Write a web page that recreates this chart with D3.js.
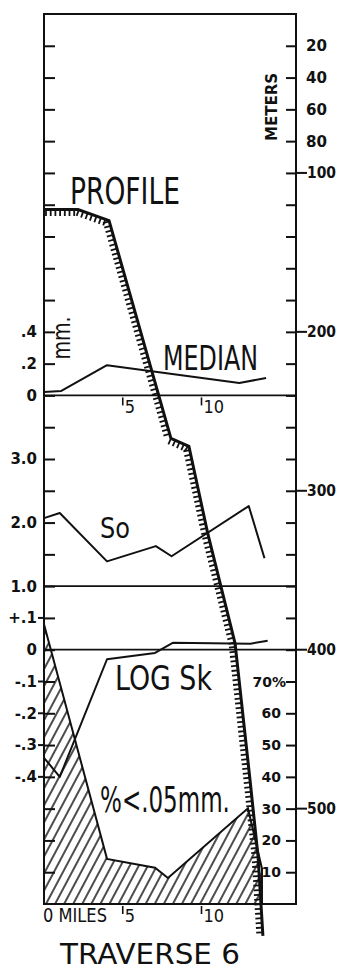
<!DOCTYPE html>
<html>
<head>
<meta charset="utf-8">
<script src="https://cdn.jsdelivr.net/npm/d3@7"></script>
<style>
  body { margin: 0; background: #fff; }
  svg { display: block; }
  text { fill: #111; }
</style>
</head>
<body>
<div id="chart"></div>
<script>
// Traverse 6: stations along the traverse (miles) and the values at each
const profileMiles = [0, 2.16, 4.13, 8.06, 9.2, 10.4, 12.13, 13.08, 13.59, 13.9];
const profileMeters = [123, 123, 130, 267, 272, 327, 396, 482, 530, 580];

const medianMiles = [0, 1.1, 4, 12.4, 14.1];
const medianMm = [0.021, 0.028, 0.19, 0.078, 0.11];

const soMiles = [0, 1, 4, 7.1, 8.1, 13, 14];
const soValues = [2.07, 2.15, 1.39, 1.63, 1.47, 2.26, 1.44];

const skMiles = [0, 1, 4, 7.05, 8.2, 13.1, 14.2];
const skValues = [-0.34, -0.40, -0.03, -0.01, 0.022, 0.019, 0.028];

const fineMiles = [0, 4, 7.05, 7.87, 12.95, 13.84];
const finePct = [88, 14.2, 11.4, 8.2, 30.1, 11.1];

// tick labels
const meterTicks = [20, 40, 60, 80, 100, 200, 300, 400, 500];
const medianTicks = [0, 0.2, 0.4];
const soTicks = [1, 2, 3];
const skTicks = [0.1, 0, -0.1, -0.2, -0.3, -0.4];
const pctTicks = [10, 20, 30, 40, 50, 60, 70];
const mileTicks = [5, 10];

const width = 344, height = 971;
const frameLeft = 44, frameRight = 296, frameTop = 14, frameBottom = 904;

const narrow = "'Liberation Sans Narrow','DejaVu Sans Condensed','Arial Narrow',sans-serif";
const plain = "'DejaVu Sans',Verdana,sans-serif";

const x = d3.scaleLinear().domain([0, 16]).range([frameLeft, frameRight]);
const yM = d3.scaleLinear().domain([0, 560]).range([frameTop, frameBottom]);
// every sub-plot sits on the same 20 m grid
const yMed = d3.scaleLinear().domain([0, 0.4]).range([yM(240), yM(200)]);
const ySo = d3.scaleLinear().domain([1, 3]).range([yM(360), yM(280)]);
const ySk = d3.scaleLinear().domain([0, -0.4]).range([yM(400), yM(480)]);
const yPct = d3.scaleLinear().domain([0, 70]).range([yM(560), yM(420)]);

const svg = d3.select("#chart")
  .append("svg")
  .attr("width", width)
  .attr("height", height);

svg.append("defs")
  .append("pattern")
  .attr("id", "hatch")
  .attr("patternUnits", "userSpaceOnUse")
  .attr("width", 8)
  .attr("height", 8)
  .attr("patternTransform", "rotate(28)")
  .append("line")
  .attr("x1", 1).attr("y1", -1).attr("x2", 1).attr("y2", 9)
  .attr("stroke", "#000")
  .attr("stroke-width", 1.4);

// % < .05 mm (hatched area)
const fineData = d3.zip(fineMiles, finePct);
svg.append("path")
  .datum(fineData)
  .attr("d", d3.area().x(d => x(d[0])).y0(yPct(0)).y1(d => yPct(d[1])))
  .attr("fill", "url(#hatch)");
svg.append("path")
  .datum(fineData.concat([[fineMiles[fineMiles.length - 1], 0]]))
  .attr("d", d3.line().x(d => x(d[0])).y(d => yPct(d[1])))
  .attr("fill", "none")
  .attr("stroke", "#111")
  .attr("stroke-width", 2);

// frame
svg.append("rect")
  .attr("x", frameLeft).attr("y", frameTop)
  .attr("width", frameRight - frameLeft).attr("height", frameBottom - frameTop)
  .attr("fill", "none")
  .attr("stroke", "#111")
  .attr("stroke-width", 2);

// inner ticks every 20 m on both sides
const grid = d3.range(20, 560, 20);
svg.append("g")
  .attr("transform", `translate(${frameLeft},0)`)
  .call(d3.axisRight(yM).tickValues(grid).tickSize(11).tickFormat(""))
  .call(g => g.select(".domain").remove())
  .call(g => g.selectAll("line").attr("stroke", "#111").attr("stroke-width", 2));
svg.append("g")
  .attr("transform", `translate(${frameRight},0)`)
  .call(d3.axisLeft(yM).tickValues(grid).tickSize(10).tickFormat(""))
  .call(g => g.select(".domain").remove())
  .call(g => g.selectAll("line").attr("stroke", "#111").attr("stroke-width", 2));

// base lines of the three upper plots
[yMed(0), ySo(1), ySk(0)].forEach(y => {
  svg.append("line")
    .attr("x1", frameLeft).attr("x2", frameRight)
    .attr("y1", y).attr("y2", y)
    .attr("stroke", "#111")
    .attr("stroke-width", 1.8);
});

// meters axis on the right
svg.append("g")
  .selectAll("g")
  .data(meterTicks)
  .enter()
  .append("g")
  .attr("transform", d => `translate(${frameRight},${yM(d)})`)
  .each(function(d) {
    const g = d3.select(this);
    if (d >= 100) {
      g.append("line").attr("x1", 0).attr("x2", 11)
        .attr("stroke", "#111").attr("stroke-width", 2);
    }
    g.append("text")
      .attr("x", d >= 100 ? 11 : 10)
      .attr("dy", "0.36em")
      .style("font-family", plain)
      .style("font-weight", "bold")
      .style("font-size", "15px")
      .attr("textLength", d >= 100 ? 29 : 21)
      .attr("lengthAdjust", "spacingAndGlyphs")
      .text(d);
  });

svg.append("text")
  .attr("transform", `translate(277,107) rotate(-90)`)
  .style("text-anchor", "middle")
  .style("font-family", plain)
  .style("font-weight", "bold")
  .style("font-size", "16px")
  .attr("textLength", 68)
  .attr("lengthAdjust", "spacingAndGlyphs")
  .text("METERS");

// left axis labels for each plot
function leftLabels(values, scale, fmt) {
  svg.append("g")
    .selectAll("text")
    .data(values)
    .enter()
    .append("text")
    .attr("x", 37)
    .attr("y", d => scale(d))
    .attr("dy", "0.36em")
    .style("text-anchor", "end")
    .style("font-family", plain)
    .style("font-weight", "bold")
    .style("font-size", "15px")
    .text(fmt);
}
leftLabels(medianTicks, yMed, d => d === 0 ? "0" : d3.format(".1f")(d).replace("0.", "."));
leftLabels(soTicks, ySo, d3.format(".1f"));
leftLabels(skTicks, ySk, d => d === 0 ? "0" : (d > 0 ? "+" : "-") + d3.format(".1f")(Math.abs(d)).replace("0.", "."));

// short outer stubs on the log Sk ticks
svg.append("g")
  .selectAll("line")
  .data(skTicks.filter(d => d !== 0))
  .enter()
  .append("line")
  .attr("x1", 38).attr("x2", frameLeft)
  .attr("y1", d => ySk(d)).attr("y2", d => ySk(d))
  .attr("stroke", "#111").attr("stroke-width", 2);

// % labels inside the right frame
svg.append("g")
  .selectAll("text")
  .data(pctTicks)
  .enter()
  .append("text")
  .attr("x", d => d === 70 ? 286 : 281)
  .attr("y", d => yPct(d))
  .attr("dy", "0.36em")
  .style("text-anchor", "end")
  .style("font-family", plain)
  .style("font-weight", "bold")
  .style("font-size", "14px")
  .text(d => d === 70 ? "70%" : d);

// miles marks on the median base line and below the frame
function mileMarks(y0, fontSize) {
  const g = svg.append("g")
    .selectAll("g")
    .data(mileTicks)
    .enter()
    .append("g")
    .attr("transform", d => `translate(${x(d)},${y0})`);
  g.append("line")
    .attr("y1", 2).attr("y2", 10)
    .attr("stroke", "#111").attr("stroke-width", 1.6);
  g.append("text")
    .attr("x", 2)
    .attr("y", 18)
    .style("font-family", narrow)
    .style("font-size", fontSize + "px")
    .text(d => d);
}
mileMarks(yMed(0), 18);
mileMarks(frameBottom, 18);

// data lines
function dataLine(miles, values, scale) {
  svg.append("path")
    .datum(d3.zip(miles, values))
    .attr("d", d3.line().x(d => x(d[0])).y(d => scale(d[1])))
    .attr("fill", "none")
    .attr("stroke", "#111")
    .attr("stroke-width", 2)
    .attr("stroke-linejoin", "round");
}
dataLine(medianMiles, medianMm, yMed);
dataLine(soMiles, soValues, ySo);
dataLine(skMiles, skValues, ySk);

// topographic profile with ground hatching on its lower side
const profile = svg.append("path")
  .datum(d3.zip(profileMiles, profileMeters))
  .attr("d", d3.line().x(d => x(d[0])).y(d => yM(d[1])))
  .attr("fill", "none")
  .attr("stroke", "#111")
  .attr("stroke-width", 3);

const node = profile.node();
const total = node.getTotalLength();
const hatch = [];
for (let s = 2; s < total - 1; s += 4.7) {
  const p = node.getPointAtLength(s);
  const q = node.getPointAtLength(s + 1);
  const dx = q.x - p.x, dy = q.y - p.y;
  const n = Math.hypot(dx, dy) || 1;
  hatch.push({ x: p.x, y: p.y, nx: -dy / n, ny: dx / n });
}
svg.append("g")
  .selectAll("line")
  .data(hatch)
  .enter()
  .append("line")
  .attr("x1", d => d.x).attr("y1", d => d.y)
  .attr("x2", d => d.x + d.nx * 6.5).attr("y2", d => d.y + d.ny * 6.5)
  .attr("stroke", "#111")
  .attr("stroke-width", 1.8);

// series names: squeeze each one horizontally to the lettered width
function label(txt, x0, y0, size, len, font) {
  const t = svg.append("text")
    .style("font-family", font || narrow)
    .style("font-size", size + "px")
    .text(txt);
  const natural = t.node().getComputedTextLength();
  t.attr("transform", `translate(${x0},${y0}) scale(${len / natural},1)`);
}
label("PROFILE", 70, 204, 37, 110);
label("MEDIAN", 163, 370, 34, 95);
label("So", 100, 538, 28, 30);
label("LOG Sk", 115, 690, 34, 97);
label("%<.05mm.", 100, 812, 36, 130);
label("0 MILES", frameLeft - 1, frameBottom + 18, 19, 64);
label("TRAVERSE 6", 60, 964, 28, 180, plain);

svg.append("text")
  .attr("transform", "translate(70,338) rotate(-90)")
  .style("text-anchor", "middle")
  .style("font-family", narrow)
  .style("font-size", "24px")
  .attr("textLength", 43)
  .attr("lengthAdjust", "spacingAndGlyphs")
  .text("mm.");
</script>
</body>
</html>
